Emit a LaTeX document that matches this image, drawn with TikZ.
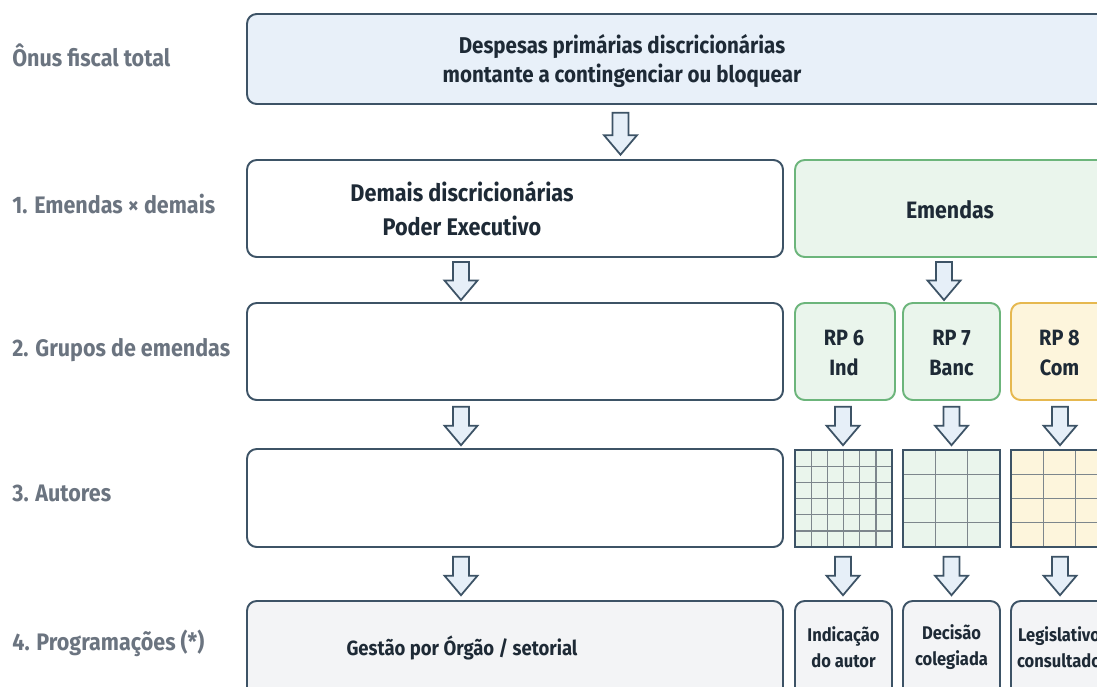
\documentclass[tikz,border=0pt]{standalone}
\usepackage{fontspec}
\setmainfont{Fira Sans}[FakeStretch=0.9]
\usetikzlibrary{calc}

\definecolor{edge}{HTML}{3D5366}
\definecolor{ink}{HTML}{1E2A36}
\definecolor{labelgray}{HTML}{6B7480}
\definecolor{bluefill}{HTML}{E8F0F9}
\definecolor{greenfill}{HTML}{EAF5EC}
\definecolor{greenedge}{HTML}{6CB57B}
\definecolor{yellowfill}{HTML}{FDF5DC}
\definecolor{yellowedge}{HTML}{E6B84F}
\definecolor{grayfill}{HTML}{F3F4F6}
\definecolor{arrowfill}{HTML}{E6EFF8}
\definecolor{gridgray}{HTML}{7D868C}

\tikzset{
  size/.style 2 args={minimum width=#1*0.02cm, minimum height=#2*0.02cm},
  box/.style={draw=edge, line width=1.1pt, rounded corners=5.5pt, inner sep=0pt, outer sep=0pt},
  greenbox/.style={box, draw=greenedge, fill=greenfill},
  yellowbox/.style={box, draw=yellowedge, fill=yellowfill},
  gridbox/.style={draw=edge, line width=1.1pt, inner sep=0pt, outer sep=0pt},
  gridline/.style={draw=gridgray, line width=0.75pt},
  rowlabel/.style={anchor=base west, inner sep=0pt, text=labelgray, font=\bfseries\fontsize{13.6}{16}\selectfont},
  boxtxt/.style={text=ink, align=center, inner sep=0pt, font=\bfseries\fontsize{13.7}{19.5}\selectfont},
  smalltxt/.style={boxtxt, font=\bfseries\fontsize{10.45}{15}\selectfont},
  rptxt/.style={boxtxt, font=\bfseries\fontsize{12.6}{17}\selectfont},
  dnarrow/.pic={
    \draw[draw=edge, fill=arrowfill, line width=1pt, line join=miter]
      (-8,0) -- (8,0) -- (8,#1-19.5) -- (16.5,#1-19.5) -- (0,#1)
      -- (-16.5,#1-19.5) -- (-8,#1-19.5) -- cycle;
  }
}

\begin{document}
\begin{tikzpicture}[x=0.02cm, y=-0.02cm]

\useasboundingbox (0,0) rectangle (1097,686);
\fill[white] (0,0) rectangle (1097,686);
\clip (0,0) rectangle (1097,686);

% row labels
\node[rowlabel] (lab0) at (12,66.7) {Ônus fiscal total};
\node[rowlabel] (lab1) at (12,213) {1. Emendas × demais};
\node[rowlabel] (lab2) at (12,356) {2. Grupos de emendas};
\node[rowlabel] (lab3) at (12,501.7) {3. Autores};
\node[rowlabel] (lab4) at (12,650) {4. Programações (*)};

% total
\node[box, fill=bluefill, size={1000}{90}] (onus) at (747,59) {};
\node[boxtxt, font=\bfseries\fontsize{13}{17}\selectfont] (onustxt) at (622,61)
  {Despesas primárias discricionárias\\montante a contingenciar ou bloquear};
\pic (a0) at (620.5,112.7) {dnarrow=42};

% 1. emendas x demais
\node[box, fill=white, size={536}{97}] (demais) at (515,208.5) {};
\node[boxtxt] (demaistxt) at (462,209) {Demais discricionárias\\Poder Executivo};
\node[greenbox, size={505}{97}] (emendas) at (1047.5,208.5) {};
\node[boxtxt, font=\bfseries\fontsize{13.5}{17}\selectfont] (emendastxt) at (950,210) {Emendas};

\pic (a1) at (461,262) {dnarrow=38};
\pic (a2) at (944,262) {dnarrow=38};

% 2. grupos
\node[box, fill=white, size={536}{97}] (grpexec) at (515,351.5) {};
\node[greenbox, size={100}{97}] (rp6) at (845,351.5) {};
\node[greenbox, size={97}{97}] (rp7) at (951.5,351.5) {};
\node[yellowbox, size={97}{97}] (rp8) at (1059.5,351.5) {};
\node[rptxt] (rp6txt) at (844,353) {RP 6\\Ind};
\node[rptxt] (rp7txt) at (951.5,353) {RP 7\\Banc};
\node[rptxt] (rp8txt) at (1059.5,353) {RP 8\\Com};

\foreach \x/\n in {461/3, 843/4, 951.5/5, 1060/6}
  \pic (a\n) at (\x,406.7) {dnarrow=38.5};

% 3. autores
\node[box, fill=white, size={536}{98}] (autexec) at (515,498) {};
\node[gridbox, fill=greenfill, size={97}{97}] (g6) at (843.5,498.5) {};
\node[gridbox, fill=greenfill, size={97}{97}] (g7) at (951.5,498.5) {};
\node[gridbox, fill=yellowfill, size={97}{97}] (g8) at (1059.5,498.5) {};

\foreach \i in {1,...,5} {
  \draw[gridline] ($(g6.north west)!\i/6!(g6.north east)$) -- ($(g6.south west)!\i/6!(g6.south east)$);
  \draw[gridline] ($(g6.north west)!\i/6!(g6.south west)$) -- ($(g6.north east)!\i/6!(g6.south east)$);
}
\foreach \g in {g7, g8} {
  \foreach \i in {1,2}
    \draw[gridline] ($(\g.north west)!\i/3!(\g.north east)$) -- ($(\g.south west)!\i/3!(\g.south east)$);
  \foreach \i in {1,2,3}
    \draw[gridline] ($(\g.north west)!\i/4!(\g.south west)$) -- ($(\g.north east)!\i/4!(\g.south east)$);
  \draw[gridbox] (\g.south west) rectangle (\g.north east);
}
\draw[gridbox] (g6.south west) rectangle (g6.north east);

\foreach \x/\n in {461/7, 843/8, 951.5/9, 1060/10}
  \pic (a\n) at (\x,556.7) {dnarrow=38.5};

% 4. programacoes
\node[box, fill=grayfill, size={536}{97}] (progexec) at (515,649.5) {};
\node[boxtxt, font=\bfseries\fontsize{11.7}{15}\selectfont] (progexectxt) at (462,648) {Gestão por Órgão / setorial};
\node[box, fill=grayfill, size={97}{97}] (prog6) at (843.5,649.5) {};
\node[box, fill=grayfill, size={97}{97}] (prog7) at (951.5,649.5) {};
\node[box, fill=grayfill, size={97}{97}] (prog8) at (1059.5,649.5) {};
\node[smalltxt] (prog6txt) at (843.5,647) {Indicação\\do autor};
\node[smalltxt] (prog7txt) at (951.5,647) {Decisão\\colegiada};
\node[smalltxt] (prog8txt) at (1059,647) {Legislativo\\consultado};

\end{tikzpicture}
\end{document}
